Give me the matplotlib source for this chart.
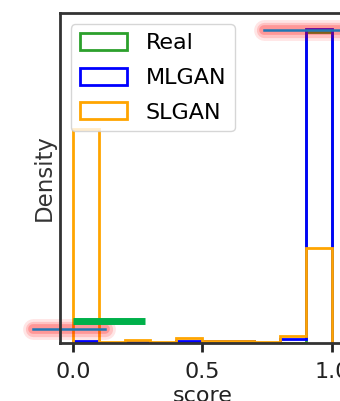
import numpy as np
import matplotlib
matplotlib.use("Agg")
import matplotlib.pyplot as plt

# bin edges and per-bin densities
edges = np.linspace(0.0, 1.0, 11)
real = [0.0, 0.0, 0.0, 0.0, 0.0, 0.0, 0.0, 0.0, 0.0, 9.5]
mlgan = [0.05, 0.0, 0.03, 0.0, 0.05, 0.05, 0.05, 0.0, 0.12, 9.6]
slgan = [6.55, 0.02, 0.08, 0.02, 0.15, 0.07, 0.07, 0.02, 0.2, 2.9]
labels = ["Real", "MLGAN", "SLGAN"]
colors = ["tab:green", "blue", "orange"]

# highlighted marker lines (x range, y level)
top_line = ([0.74, 1.07], 9.57)
low_line = ([-0.155, 0.125], 0.43)
green_bar = ([0.0, 0.28], 0.67)

centers = (edges[:-1] + edges[1:]) / 2

fig = plt.figure(figsize=(3.4, 4.01), dpi=100)
ax = fig.add_axes([0.176, 0.1446, 0.838, 0.823])

for vals, lab, col in zip([real, mlgan, slgan], labels, colors):
    ax.hist(centers, bins=edges, weights=vals, histtype='step',
            color=col, lw=2, label=lab)

# red glow with a thin blue line on top
for xs, y in [top_line, low_line]:
    for w, a in [(15, 0.10), (11, 0.15), (7, 0.22)]:
        ax.plot(xs, [y, y], color='red', lw=w, alpha=a,
                solid_capstyle='round', clip_on=False)
    ax.plot(xs, [y, y], color='tab:blue', lw=1.8, clip_on=False)
ax.plot(green_bar[0], [green_bar[1]] * 2, color='#00b04a', lw=5,
        solid_capstyle='butt', clip_on=False)

ax.set_xlim(-0.05, 1.05)
ax.set_yticks([])
ax.set_xticks([0.0, 0.5, 1.0])
ax.set_xticklabels(["0.0", "0.5", "1.0"])
ax.tick_params(axis='x', labelsize=16, length=6.5, width=2, pad=7,
               colors='#222222')
for s in ax.spines.values():
    s.set_linewidth(2)
    s.set_color('#333333')
ax.set_xlabel("score", fontsize=16, labelpad=3, color='#222222')
ax.set_ylabel("Density", fontsize=16.5, labelpad=3, color='#333333')

ax.legend(loc='upper left', fontsize=16, handlelength=2.1, handleheight=0.8,
          handletextpad=0.85, borderaxespad=0.5, labelspacing=0.65)

fig.savefig("out.png", dpi=100)
